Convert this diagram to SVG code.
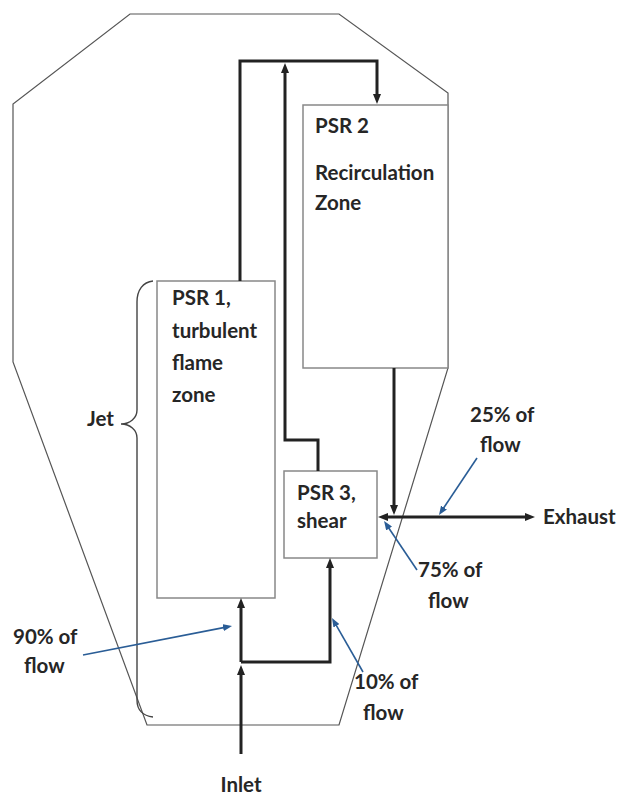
<svg xmlns="http://www.w3.org/2000/svg" width="618" height="796" viewBox="0 0 618 796">
<style>
text{font-family:Lato,"Liberation Sans",sans-serif;font-weight:bold;font-size:20.5px;fill:#262626}
.wall{fill:none;stroke:#555;stroke-width:1.2}
.box{fill:#fff;stroke:#888;stroke-width:1.5}
.flow{fill:none;stroke:#222;stroke-width:3}
.note{fill:none;stroke:#2a5d96;stroke-width:1.6}
.brace{fill:none;stroke:#444;stroke-width:1.4}
</style>
<defs>
<marker id="ah" markerUnits="userSpaceOnUse" markerWidth="10" markerHeight="8" refX="4" refY="4" orient="auto-start-reverse"><path d="M0,0 L10,4 L0,8 z" fill="#222"/></marker>
<marker id="bh" markerUnits="userSpaceOnUse" markerWidth="9" markerHeight="7" refX="3" refY="3.5" orient="auto"><path d="M0,0 L9,3.5 L0,7 z" fill="#2a5d96"/></marker>
</defs>
<g id="chamber">
<path class="wall" d="M130,14 H339 L448,93 V368 L339,725 H147 L13,362 V104 Z"/>
<path class="brace" d="M153,281 C143,282 137,290 137,302 V410 C137,418 130,424 121,424 C130,424 137,430 137,438 V700 C137,710 143,716 153,717"/>
<text x="87" y="426">Jet</text>
</g>
<g id="psr2">
<rect class="box" x="303" y="105" width="145" height="263"/>
<text x="315" y="133">PSR 2</text>
<text x="315" y="180">Recirculation</text>
<text x="315" y="210">Zone</text>
</g>
<g id="psr1">
<rect class="box" x="157" y="281" width="118" height="317"/>
<text x="172" y="305">PSR 1,</text>
<text x="172" y="338">turbulent</text>
<text x="172" y="370">flame</text>
<text x="172" y="402">zone</text>
</g>
<g id="psr3">
<rect class="box" x="284" y="471" width="93" height="87"/>
<text x="297" y="500">PSR 3,</text>
<text x="297" y="528">shear</text>
</g>
<g id="connectors">
<path class="flow" d="M240,281 V61 H377 V98" marker-end="url(#ah)"/>
<path class="flow" d="M318,471 V440 H285 V69" marker-end="url(#ah)"/>
<path class="flow" d="M394,368 V509" marker-end="url(#ah)"/>
<path class="flow" d="M384,517 H529" marker-start="url(#ah)" marker-end="url(#ah)"/>
<path class="flow" d="M241,754 V671" marker-end="url(#ah)"/>
<path class="flow" d="M241,662 V604" marker-end="url(#ah)"/>
<path class="flow" d="M241,662 H330 V564" marker-end="url(#ah)"/>
</g>
<g id="exhaust"><text x="543" y="524">Exhaust</text></g>
<g id="inlet"><text x="241" y="792" text-anchor="middle">Inlet</text></g>
<g id="annotations">
<path class="note" d="M477,458 L442.3,510" marker-end="url(#bh)"/>
<path class="note" d="M417,570 L387.4,526" marker-end="url(#bh)"/>
<path class="note" d="M83,655 L226.1,627.1" marker-end="url(#bh)"/>
<path class="note" d="M363,672 L335,623.2" marker-end="url(#bh)"/>
<text x="470" y="422">25% of</text>
<text x="480" y="452">flow</text>
<text x="418" y="577">75% of</text>
<text x="428" y="608">flow</text>
<text x="13" y="644">90% of</text>
<text x="24" y="673">flow</text>
<text x="354" y="689">10% of</text>
<text x="363" y="720">flow</text>
</g>
</svg>
